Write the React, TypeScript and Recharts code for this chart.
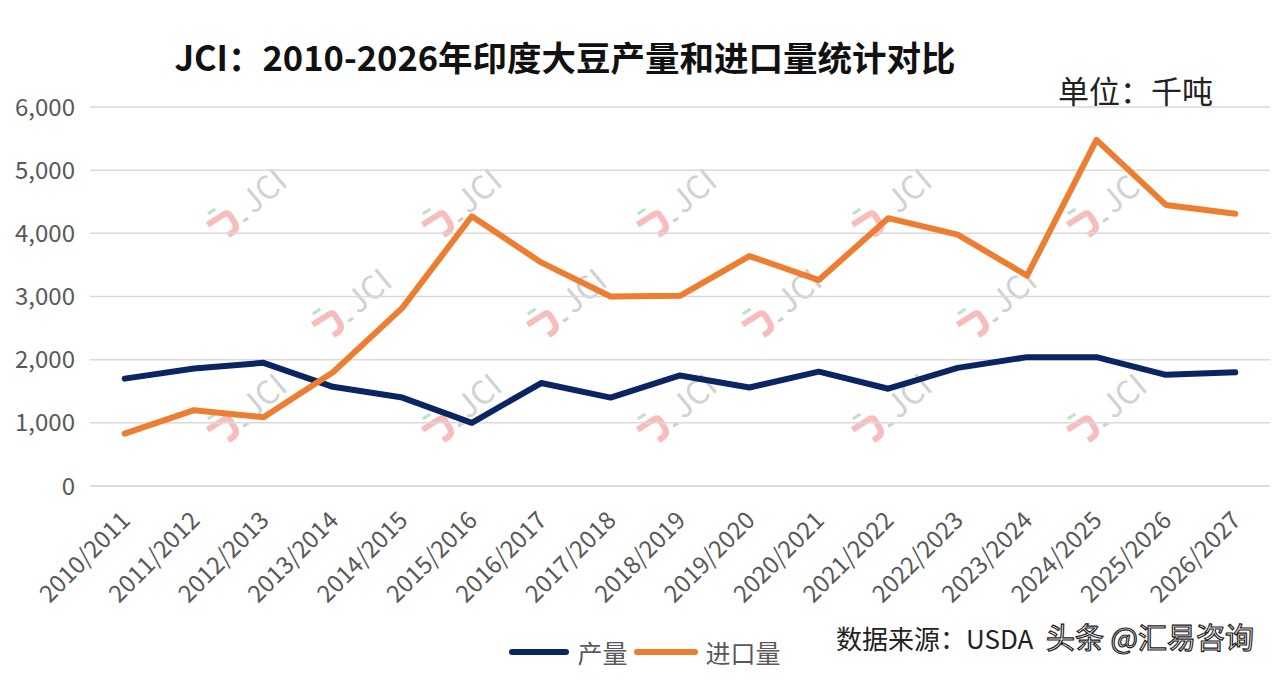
import { LineChart, Line, XAxis, YAxis, CartesianGrid, Legend } from 'recharts';

const years = [
  '2010/2011', '2011/2012', '2012/2013', '2013/2014', '2014/2015', '2015/2016',
  '2016/2017', '2017/2018', '2018/2019', '2019/2020', '2020/2021', '2021/2022',
  '2022/2023', '2023/2024', '2024/2025', '2025/2026', '2026/2027',
];

// 产量 (千吨)
const production = [1700, 1860, 1950, 1570, 1400, 1000, 1630, 1400, 1750, 1560, 1810, 1540, 1870, 2040, 2040, 1760, 1800];
// 进口量 (千吨)
const imports = [830, 1200, 1090, 1800, 2820, 4270, 3540, 3000, 3010, 3640, 3260, 4240, 3980, 3330, 5480, 4450, 4310];

const yTicks = [0, 1000, 2000, 3000, 4000, 5000, 6000];

const seriesNames = { production: '产量', imports: '进口量' };
const NAVY = '#0B2462';
const ORANGE = '#ED7D31';
const FONT = '"Noto Sans CJK SC", "Noto Sans", sans-serif';

const data = years.map((year, i) => ({ year, production: production[i], imports: imports[i] }));

// JCI watermark spots (page coords)
const marks = [
  [255, 195], [470, 195], [685, 195], [900, 195], [1115, 195],
  [360, 295], [575, 295], [790, 295], [1005, 295],
  [255, 400], [470, 400], [685, 400], [900, 400], [1115, 400],
];

const XTick = ({ x, y, payload }: any) => (
  <g transform={`translate(${x + 1},${y + 22})`}>
    <text transform="rotate(-45)" textAnchor="end" dy="0.35em" fontSize={24} fill="#595959" fontFamily={FONT}>
      {payload.value}
    </text>
  </g>
);

const LegendContent = () => (
  <div style={{ display: 'flex', justifyContent: 'center', alignItems: 'center', fontFamily: FONT, fontSize: 25, color: '#595959', paddingLeft: 10 }}>
    <span style={{ display: 'inline-block', width: 60, height: 6, borderRadius: 3, background: NAVY, marginRight: 8 }} />
    <span style={{ marginRight: 6 }}>{seriesNames.production}</span>
    <span style={{ display: 'inline-block', width: 64, height: 6, borderRadius: 3, background: ORANGE, marginRight: 8 }} />
    <span>{seriesNames.imports}</span>
  </div>
);

export default function App() {
  return (
    <div style={{ position: 'relative', width: 1280, height: 681, margin: -8, overflow: 'hidden', background: '#fff', fontFamily: FONT }}>
      <svg width={1280} height={681} style={{ position: 'absolute', left: 0, top: 0 }}>
        {marks.map(([cx, cy], i) => (
          <g key={i} transform={`translate(${cx},${cy}) rotate(-32)`}>
            <path d="M -56 0 L -36 0 Q -32 0 -32 5 L -32 12 Q -32 20 -40 20 L -44 20" stroke="#F8BCBC" strokeWidth={6} fill="none" strokeLinejoin="round" />
            <line x1={-50} y1={-9} x2={-41} y2={-9} stroke="#BEE2CB" strokeWidth={3} />
            <line x1={-24} y1={16} x2={-18} y2={16} stroke="#D0D0D0" strokeWidth={3} />
            <text x={-14} y={14} fontSize={32} fill="#D2D2D2" fontFamily={FONT} transform="rotate(-8)">JCI</text>
          </g>
        ))}
      </svg>

      <div style={{ position: 'absolute', left: 0, top: 0 }}>
        <LineChart width={1280} height={681} data={data} margin={{ top: 107, right: 10, bottom: 0, left: 0 }}>
          <CartesianGrid vertical={false} stroke="#D9D9D9" strokeWidth={1.5} />
          <XAxis
            dataKey="year"
            interval={0}
            height={159}
            padding={{ left: 34.7, right: 34.7 }}
            tickLine={false}
            axisLine={{ stroke: '#D9D9D9', strokeWidth: 1.5 }}
            tick={<XTick />}
          />
          <YAxis
            width={90}
            domain={[0, 6000]}
            ticks={yTicks}
            interval={0}
            axisLine={false}
            tickLine={false}
            tickMargin={9}
            tickFormatter={(v: number) => v.toLocaleString('en-US')}
            tick={{ fontSize: 24, fill: '#595959', fontFamily: FONT }}
          />
          <Legend content={<LegendContent />} wrapperStyle={{ position: 'absolute', top: 634, left: 0, width: 1280 }} />
          <Line
            dataKey="production"
            name={seriesNames.production}
            stroke={NAVY}
            strokeWidth={6}
            strokeLinecap="round"
            strokeLinejoin="round"
            dot={false}
            isAnimationActive={false}
          />
          <Line
            dataKey="imports"
            name={seriesNames.imports}
            stroke={ORANGE}
            strokeWidth={6}
            strokeLinecap="round"
            strokeLinejoin="round"
            dot={false}
            isAnimationActive={false}
          />
        </LineChart>
      </div>

      <div style={{ position: 'absolute', left: 0, width: 1130, top: 39, textAlign: 'center', fontSize: 34.5, fontWeight: 700, lineHeight: 1, color: '#111' }}>
        JCI：2010-2026年印度大豆产量和进口量统计对比
      </div>
      <div style={{ position: 'absolute', left: 1058, top: 74, fontSize: 31, lineHeight: 1, color: '#222' }}>
        单位：千吨
      </div>
      <div style={{ position: 'absolute', left: 836, top: 625, fontSize: 26, lineHeight: 1, color: '#222' }}>
        数据来源：USDA
      </div>
      <div style={{ position: 'absolute', left: 1046, top: 622, fontSize: 29, lineHeight: 1, color: '#fff', WebkitTextStroke: '1.2px #222' }}>
        头条 @汇易咨询
      </div>
    </div>
  );
}
